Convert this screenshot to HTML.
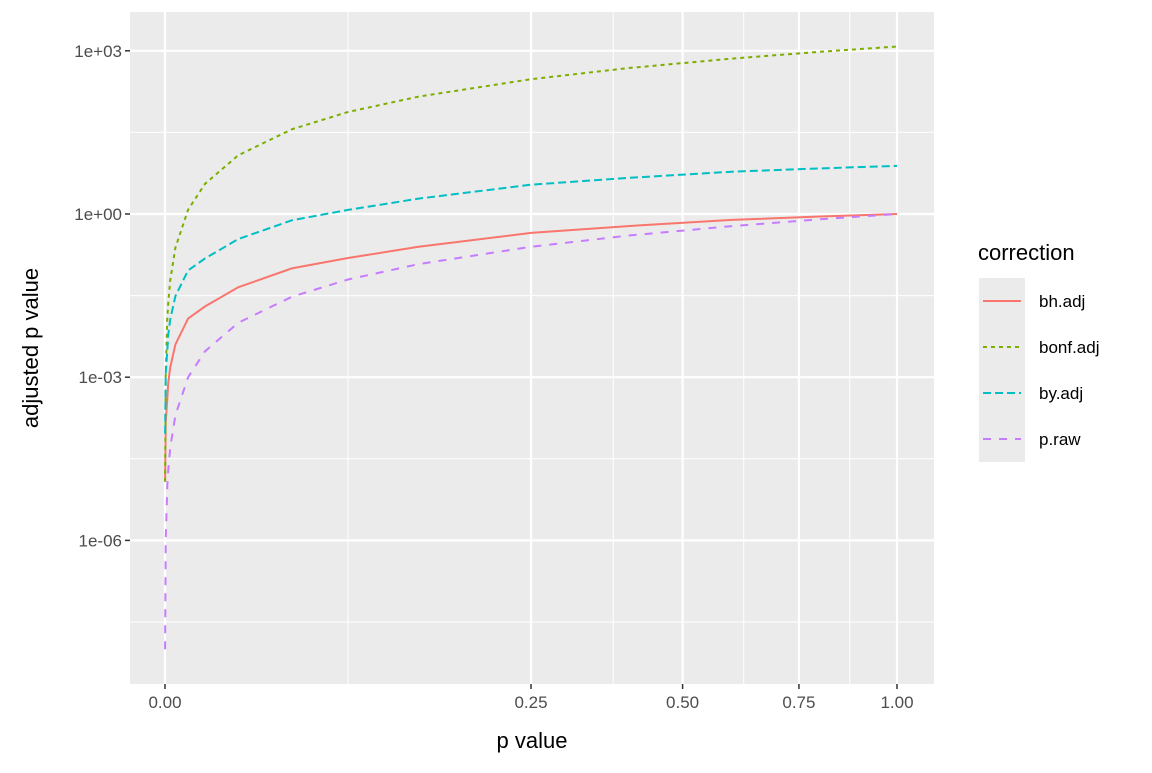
<!DOCTYPE html>
<html><head><meta charset="utf-8"><style>
body{margin:0;background:#fff;font-family:"Liberation Sans",Arial,sans-serif}
</style></head><body>
<svg id="chart" width="1152" height="768" xmlns="http://www.w3.org/2000/svg" font-family="Liberation Sans, Arial, sans-serif"></svg>
<script>
const pvals = [1e-8,1e-6,1e-5,2e-5,5e-5,2e-4,1e-3,3e-3,0.01,0.03,0.0625,0.12,0.25,0.4,0.6,0.8,1];
const bhAdj = [1.2e-5,1.5e-4,4e-4,8e-4,1.5e-3,4e-3,0.012,0.02,0.045,0.1,0.155,0.25,0.45,0.6,0.78,0.9,1];
const bonfAdj = [1.2e-5,1.2e-3,0.012,0.024,0.06,0.24,1.2,3.6,12,36,75,144,300,480,720,960,1200];
const byAdj = [9.2e-5,1.15e-3,3.1e-3,6.1e-3,0.0115,0.031,0.092,0.153,0.345,0.767,1.19,1.92,3.45,4.6,6.0,6.9,7.67];
const pRaw = [1e-8,1e-6,1e-5,2e-5,5e-5,2e-4,1e-3,3e-3,0.01,0.03,0.0625,0.12,0.25,0.4,0.6,0.8,1];
const xTicks = [0,0.25,0.5,0.75,1];
const xTickLabels = ["0.00","0.25","0.50","0.75","1.00"];
const xMinor = [0.0625,0.375,0.625,0.875];
const yTicks = [3,0,-3,-6];
const yTickLabels = ["1e+03","1e+00","1e-03","1e-06"];
const yMinor = [1.5,-1.5,-4.5,-7.5];
const seriesNames = ["bh.adj","bonf.adj","by.adj","p.raw"];

const NS="http://www.w3.org/2000/svg", svg=document.getElementById('chart');
const PL=130,PR=934,PT=12,PB=684;
const xs=v=>165+732*Math.sqrt(v);
const ys=l=>214-54.4*l; // l = log10 value
function mk(t,a,p){const e=document.createElementNS(NS,t);for(const k in a)e.setAttribute(k,a[k]);(p||svg).appendChild(e);return e;}
const panel=mk('rect',{x:PL,y:PT,width:PR-PL,height:PB-PT,fill:'#EBEBEB'});


yMinor.forEach(l=>{const e=mk('line',{x1:PL,x2:PR,y1:ys(l),y2:ys(l),stroke:'#fff','stroke-width':1});

});
xMinor.forEach(v=>{const e=mk('line',{x1:xs(v),x2:xs(v),y1:PT,y2:PB,stroke:'#fff','stroke-width':1});

});
yTicks.forEach((l,i)=>{const e=mk('line',{x1:PL,x2:PR,y1:ys(l),y2:ys(l),stroke:'#fff','stroke-width':2.2});


mk('line',{x1:PL-5,x2:PL,y1:ys(l),y2:ys(l),stroke:'#333','stroke-width':1.5});
const t=mk('text',{x:PL-8,y:ys(l)+6,'text-anchor':'end','font-size':17,fill:'#4D4D4D'});t.textContent=yTickLabels[i];

});
xTicks.forEach((v,i)=>{const e=mk('line',{x1:xs(v),x2:xs(v),y1:PT,y2:PB,stroke:'#fff','stroke-width':2.2});


mk('line',{x1:xs(v),x2:xs(v),y1:PB,y2:PB+5,stroke:'#333','stroke-width':1.5});
const t=mk('text',{x:xs(v),y:PB+24,'text-anchor':'middle','font-size':17,fill:'#4D4D4D'});t.textContent=xTickLabels[i];

});
const series=[bhAdj,bonfAdj,byAdj,pRaw];
const colors=['#F8766D','#7CAE00','#00BFC4','#C77CFF'];
const dashes=['none','4,4','8,4','8,8'];
series.forEach((s,k)=>{const d=s.map((v,i)=>(i?'L':'M')+xs(pvals[i]).toFixed(1)+','+ys(Math.log10(v)).toFixed(1)).join('');
const e=mk('path',{d:d,fill:'none',stroke:colors[k],'stroke-width':2,'stroke-dasharray':dashes[k]});

});
let t=mk('text',{x:(PL+PR)/2,y:748,'text-anchor':'middle','font-size':22,fill:'#000'});t.textContent='p value';


t=mk('text',{x:0,y:0,'text-anchor':'middle','font-size':22,fill:'#000',transform:'translate(38,348) rotate(-90)'});t.textContent='adjusted p value';


t=mk('text',{x:978,y:260,'font-size':22,fill:'#000'});t.textContent='correction';


const kb=mk('rect',{x:979,y:278,width:46,height:184,fill:'#EBEBEB'});


seriesNames.forEach((n,k)=>{const cy=278+23+46*k;
const l=mk('line',{x1:983,x2:1021,y1:cy,y2:cy,stroke:colors[k],'stroke-width':2,'stroke-dasharray':dashes[k]});


const tx=mk('text',{x:1039,y:cy+6,'font-size':17,fill:'#000'});tx.textContent=n;

});
</script>
</body></html>
